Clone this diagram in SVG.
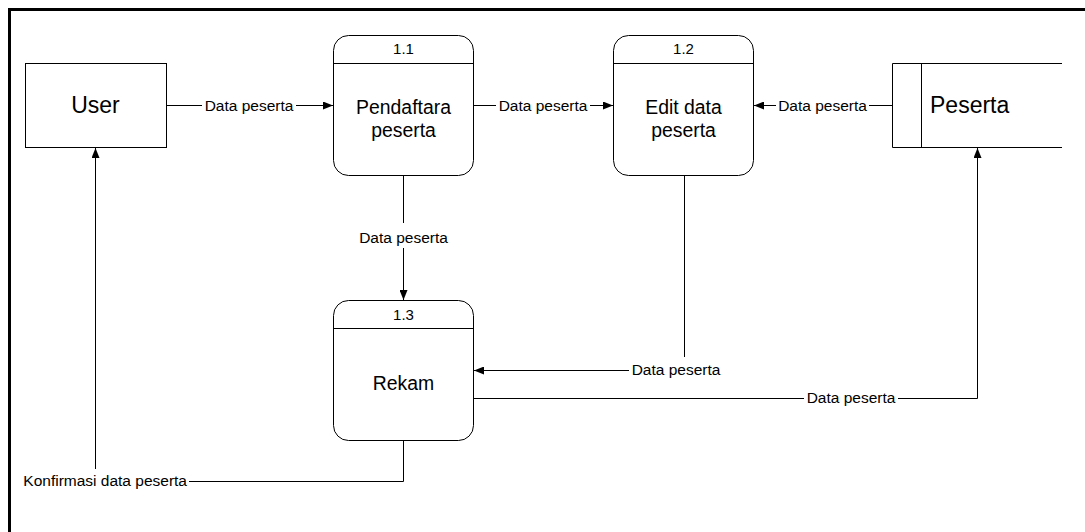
<svg xmlns="http://www.w3.org/2000/svg" width="1085" height="532" viewBox="0 0 1085 532">
<defs>
<style>
.node{fill:#fff;stroke:#000;stroke-width:1}
.conn{fill:none;stroke:#000;stroke-width:1}
.big{font-family:"Liberation Sans",Arial,sans-serif;font-size:23px;fill:#000}
.proc{font-family:"Liberation Sans",Arial,sans-serif;font-size:19.4px;fill:#000;text-anchor:middle}
.num{font-family:"Liberation Sans",Arial,sans-serif;font-size:15px;fill:#000;text-anchor:middle}
.lbl{font-family:"Liberation Sans",Arial,sans-serif;font-size:15.5px;fill:#000;text-anchor:middle}
</style>
<marker id="arr" markerUnits="userSpaceOnUse" markerWidth="10" markerHeight="8" refX="10" refY="4" orient="auto">
<path d="M0,0 L10,4 L0,8 z" fill="#000"/>
</marker>
</defs>
<rect x="0" y="0" width="1085" height="532" fill="#fff"/>
<rect x="9.5" y="9.5" width="1200" height="700" fill="none" stroke="#000" stroke-width="3"/>

<g id="user">
<rect class="node" x="25.5" y="63.5" width="141" height="84"/>
<text class="big" x="95.5" y="113" text-anchor="middle">User</text>
</g>

<g id="p11">
<rect class="node" x="333.5" y="35.5" width="140" height="140" rx="15" ry="15"/>
<line class="conn" x1="333.5" y1="63.5" x2="473.5" y2="63.5"/>
<text class="num" x="403.5" y="54">1.1</text>
<text class="proc" x="403.5" y="113.5">Pendaftara</text>
<text class="proc" x="403.5" y="137">peserta</text>
</g>

<g id="p12">
<rect class="node" x="613.5" y="35.5" width="140" height="140" rx="15" ry="15"/>
<line class="conn" x1="613.5" y1="63.5" x2="753.5" y2="63.5"/>
<text class="num" x="683.5" y="54">1.2</text>
<text class="proc" x="683.5" y="113.5">Edit data</text>
<text class="proc" x="683.5" y="137">peserta</text>
</g>

<g id="p13">
<rect class="node" x="333.5" y="300.5" width="140" height="140" rx="15" ry="15"/>
<line class="conn" x1="333.5" y1="328.5" x2="473.5" y2="328.5"/>
<text class="num" x="403.5" y="319.5">1.3</text>
<text class="proc" x="403.5" y="390">Rekam</text>
</g>

<g id="peserta">
<path class="node" d="M1062,63.5 H892.5 V147.5 H1062" />
<line class="conn" x1="921.5" y1="63.5" x2="921.5" y2="147.5"/>
<text class="big" x="930" y="113">Peserta</text>
</g>

<g id="connectors">
<path class="conn" d="M166.5,105.5 H202"/>
<path class="conn" d="M296,105.5 H333" marker-end="url(#arr)"/>
<text class="lbl" x="249" y="110.5">Data peserta</text>

<path class="conn" d="M473.5,105.5 H496"/>
<path class="conn" d="M590,105.5 H613" marker-end="url(#arr)"/>
<text class="lbl" x="543" y="110.5">Data peserta</text>

<path class="conn" d="M892.5,105.5 H869"/>
<path class="conn" d="M776,105.5 H754" marker-end="url(#arr)"/>
<text class="lbl" x="822.5" y="110.5">Data peserta</text>

<path class="conn" d="M403.5,175.5 V223"/>
<path class="conn" d="M403.5,248 V300" marker-end="url(#arr)"/>
<text class="lbl" x="403.5" y="243">Data peserta</text>

<path class="conn" d="M684.5,175.5 V357"/>
<path class="conn" d="M629,370.5 H474" marker-end="url(#arr)"/>
<text class="lbl" x="676" y="375">Data peserta</text>

<path class="conn" d="M473.5,398.5 H804"/>
<path class="conn" d="M898,398.5 H977.5 V148" marker-end="url(#arr)"/>
<text class="lbl" x="851" y="403">Data peserta</text>

<path class="conn" d="M403.5,440.5 V481.5 H189"/>
<path class="conn" d="M95.5,469 V148" marker-end="url(#arr)"/>
<text class="lbl" x="187" y="486" text-anchor="end" style="text-anchor:end">Konfirmasi data peserta</text>
</g>
</svg>
